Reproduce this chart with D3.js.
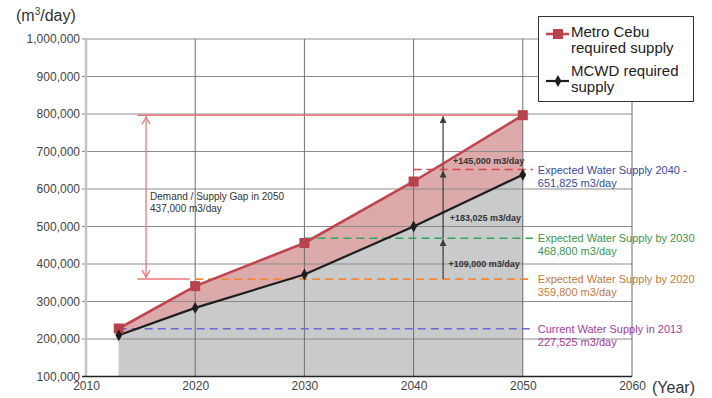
<!DOCTYPE html>
<html>
<head>
<meta charset="utf-8">
<script src="https://cdn.jsdelivr.net/npm/d3@7"></script>
<style>
  html, body { margin: 0; padding: 0; background: #fff; }
  svg { display: block; font-family: "Liberation Sans", Arial, sans-serif; }
</style>
</head>
<body>
<svg id="chart" width="712" height="398"></svg>
<script>
// Projected daily water demand (m3/day)
const years = [2013, 2020, 2030, 2040, 2050];
const metroCebu = [228000, 341000, 456000, 620000, 796800];
const mcwd = [210000, 283000, 372000, 500000, 638000];

// Expected supply levels
const supplyNames = [
  "Current Water Supply in 2013",
  "Expected Water Supply by 2020",
  "Expected Water Supply by 2030",
  "Expected Water Supply 2040 -"
];
const supplyValueText = ["227,525 m3/day", "359,800 m3/day", "468,800 m3/day", "651,825 m3/day"];
const supplyValues = [227525, 359800, 468800, 651825];
const supplyFrom = [2013, 2020, 2030, 2040];
const supplyDash = ["#6f68d6", "#f08a3a", "#2ea858", "#e0424a"];
const supplyText = ["#a43c9e", "#c47a3e", "#3e9650", "#3a4a9e"];

// Step increments between supply levels
const stepLabels = ["+109,000 m3/day", "+183,025 m3/day", "+145,000 m3/day"];
const stepFrom = [359800, 468800, 651825];
const stepTo = [468800, 651825, 796825];

const yTicks = [100000, 200000, 300000, 400000, 500000, 600000, 700000, 800000, 900000, 1000000];
const xTicks = [2010, 2020, 2030, 2040, 2050, 2060];

const svg = d3.select("#chart");
const x = d3.scaleLinear().domain([2010, 2060]).range([86, 632]);
const y = d3.scaleLinear().domain([100000, 1000000]).range([376.5, 39]);
const fmt = d3.format(",");

// Areas under the two demand curves
const area = v => d3.area().x((d, i) => x(years[i])).y0(y(100000)).y1(d => y(d))(v);
svg.append("path").attr("d", area(metroCebu)).attr("fill", "#dcaaaa");
svg.append("path").attr("d", area(mcwd)).attr("fill", "#c9cacc");

// Gridlines
svg.append("g").selectAll("line").data(yTicks.slice(1)).join("line")
  .attr("x1", x(2010) - 4).attr("x2", x(2060))
  .attr("y1", d => y(d)).attr("y2", d => y(d))
  .attr("stroke", "#8c8c8c").attr("stroke-width", 1.2);
svg.append("g").selectAll("line").data(xTicks.slice(1)).join("line")
  .attr("x1", d => x(d)).attr("x2", d => x(d))
  .attr("y1", y(1000000)).attr("y2", y(100000))
  .attr("stroke", "#6e6e6e").attr("stroke-width", 1);

// Left axis (light) and bottom axis (dark)
svg.append("line").attr("x1", x(2010)).attr("x2", x(2010))
  .attr("y1", y(1000000)).attr("y2", y(100000))
  .attr("stroke", "#c4c4c4").attr("stroke-width", 2.5);
svg.append("line").attr("x1", x(2010) - 4).attr("x2", x(2060))
  .attr("y1", y(100000)).attr("y2", y(100000))
  .attr("stroke", "#222").attr("stroke-width", 1.5);

const yAxis = svg.append("g").attr("transform", `translate(${x(2010)},0)`)
  .call(d3.axisLeft(y).tickValues(yTicks).tickFormat(fmt).tickSize(0).tickPadding(6));
yAxis.select(".domain").remove();
yAxis.selectAll("text").attr("font-size", 12).attr("fill", "#444")
  .attr("font-family", "'Liberation Sans', Arial, sans-serif");

const xAxis = svg.append("g").attr("transform", `translate(0,${y(100000)})`)
  .call(d3.axisBottom(x).tickValues(xTicks).tickFormat(d3.format("d")).tickSize(0).tickPadding(5));
xAxis.select(".domain").remove();
xAxis.selectAll("text").attr("font-size", 12).attr("fill", "#444")
  .attr("font-family", "'Liberation Sans', Arial, sans-serif");

// Axis titles
const unit = svg.append("text").attr("x", 16).attr("y", 21)
  .attr("font-size", 16).attr("fill", "#333");
unit.append("tspan").text("(m");
unit.append("tspan").attr("font-size", 10).attr("dy", -6).text("3");
unit.append("tspan").attr("dy", 6).text("/day)");
svg.append("text").attr("x", 652).attr("y", 393).attr("font-size", 16)
  .attr("fill", "#333").text("(Year)");

// Supply level dashed lines and labels
const labelX = x(2050) + 15;
supplyValues.forEach((v, i) => {
  svg.append("line")
    .attr("x1", x(supplyFrom[i])).attr("x2", x(2050) + 10)
    .attr("y1", y(v)).attr("y2", y(v))
    .attr("stroke", supplyDash[i]).attr("stroke-width", 1.6)
    .attr("stroke-dasharray", "8,5");
  const t = svg.append("text").attr("font-size", 11).attr("fill", supplyText[i]);
  t.append("tspan").attr("x", labelX).attr("y", y(v) + 4).text(supplyNames[i]);
  t.append("tspan").attr("x", labelX).attr("y", y(v) + 17).text(supplyValueText[i]);
});

// Demand / supply gap annotation
const gapColor = "#e8787c";
const gapX = x(2015.5);
svg.append("line").attr("x1", x(2014.7)).attr("x2", x(2050))
  .attr("y1", y(metroCebu[4])).attr("y2", y(metroCebu[4]))
  .attr("stroke", gapColor).attr("stroke-width", 1.5);
svg.append("line").attr("x1", x(2014.7)).attr("x2", x(2019.5))
  .attr("y1", y(supplyValues[1])).attr("y2", y(supplyValues[1]))
  .attr("stroke", gapColor).attr("stroke-width", 1.5);
svg.append("line").attr("x1", gapX).attr("x2", gapX)
  .attr("y1", y(metroCebu[4]) + 1).attr("y2", y(supplyValues[1]) - 1)
  .attr("stroke", gapColor).attr("stroke-width", 1.3);
const vHead = (yy, dir) => svg.append("path")
  .attr("d", `M${gapX - 4},${yy + dir * 8} L${gapX},${yy + 1 * dir} L${gapX + 4},${yy + dir * 8}`)
  .attr("fill", "none").attr("stroke", gapColor).attr("stroke-width", 1.3);
vHead(y(metroCebu[4]) + 1, 1);
vHead(y(supplyValues[1]) - 1, -1);
const gapText = svg.append("text").attr("font-size", 10).attr("fill", "#333");
gapText.append("tspan").attr("x", gapX + 4).attr("y", 200).text("Demand / Supply Gap in 2050");
gapText.append("tspan").attr("x", gapX + 4).attr("y", 212)
  .text(fmt(metroCebu[4] - supplyValues[1]) + " m3/day");

// Step arrows between supply levels
const stepX = x(2042.7);
svg.append("defs").append("marker").attr("id", "tri")
  .attr("viewBox", "0 0 10 10").attr("refX", 10).attr("refY", 5)
  .attr("markerWidth", 7).attr("markerHeight", 7).attr("orient", "auto")
  .attr("markerUnits", "userSpaceOnUse")
  .append("path").attr("d", "M0,0 L10,5 L0,10 Z").attr("fill", "#3a3a3a");
stepFrom.forEach((v, i) => {
  svg.append("line").attr("x1", stepX).attr("x2", stepX)
    .attr("y1", y(v)).attr("y2", y(stepTo[i]) + 1)
    .attr("stroke", "#3a3a3a").attr("stroke-width", 1.2)
    .attr("marker-end", "url(#tri)");
});
const stepLabelY = [267, 221, 164];
const stepLabelX = [x(2043.2), x(2043.3), x(2043.6)];
stepLabels.forEach((s, i) => {
  svg.append("text").attr("x", stepLabelX[i]).attr("y", stepLabelY[i])
    .attr("font-size", 9).attr("font-weight", "bold").attr("fill", "#333").text(s);
});

// Demand lines and markers
const line = d3.line().x((d, i) => x(years[i])).y(d => y(d));
svg.append("path").attr("d", line(mcwd)).attr("fill", "none")
  .attr("stroke", "#1e1e1e").attr("stroke-width", 2.2);
svg.append("path").attr("d", line(metroCebu)).attr("fill", "none")
  .attr("stroke", "#bf4650").attr("stroke-width", 2.6);
svg.append("g").selectAll("rect").data(metroCebu).join("rect")
  .attr("x", (d, i) => x(years[i]) - 5).attr("y", d => y(d) - 5)
  .attr("width", 10).attr("height", 10).attr("fill", "#b8434e");
svg.append("g").selectAll("path").data(mcwd).join("path")
  .attr("transform", (d, i) => `translate(${x(years[i])},${y(d)})`)
  .attr("d", d3.symbol(d3.symbolDiamond, 40)).attr("fill", "#1e1e1e");

// Legend
const lg = svg.append("g");
lg.append("rect").attr("x", 538.5).attr("y", 16.5).attr("width", 155).attr("height", 85)
  .attr("fill", "#fff").attr("stroke", "#333").attr("stroke-width", 1);
lg.append("line").attr("x1", 546).attr("x2", 569).attr("y1", 34).attr("y2", 34)
  .attr("stroke", "#bf4650").attr("stroke-width", 2.6);
lg.append("rect").attr("x", 553).attr("y", 29).attr("width", 10).attr("height", 10).attr("fill", "#b8434e");
lg.append("line").attr("x1", 546).attr("x2", 569).attr("y1", 81).attr("y2", 81)
  .attr("stroke", "#1e1e1e").attr("stroke-width", 2.2);
lg.append("path").attr("transform", "translate(558,81)")
  .attr("d", d3.symbol(d3.symbolDiamond, 40)).attr("fill", "#1e1e1e");
const lt1 = lg.append("text").attr("font-size", 15).attr("fill", "#222");
lt1.append("tspan").attr("x", 571).attr("y", 37).text("Metro Cebu");
lt1.append("tspan").attr("x", 571).attr("y", 53).text("required supply");
const lt2 = lg.append("text").attr("font-size", 15).attr("fill", "#222");
lt2.append("tspan").attr("x", 571).attr("y", 76).text("MCWD required");
lt2.append("tspan").attr("x", 571).attr("y", 92).text("supply");
</script>
</body>
</html>
